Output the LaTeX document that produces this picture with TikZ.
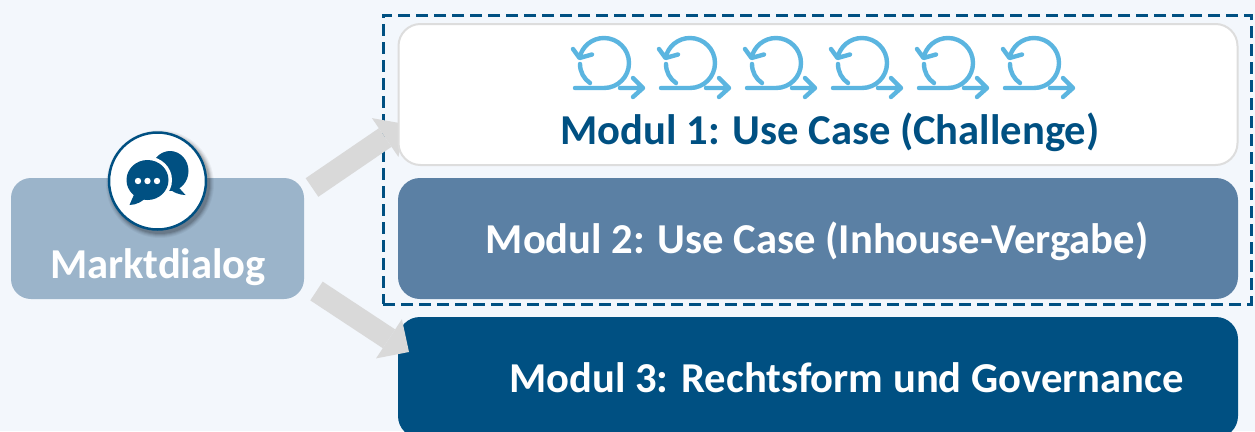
\documentclass[tikz,border=0pt]{standalone}
\usepackage{fontspec}
\setmainfont{Carlito}
\usetikzlibrary{arrows.meta}
\definecolor{bgc}{HTML}{F3F7FC}
\definecolor{navy}{HTML}{005082}
\definecolor{midb}{HTML}{5B80A4}
\definecolor{lightb}{HTML}{9BB4CA}
\definecolor{greyar}{HTML}{D9D9D9}
\definecolor{greyed}{HTML}{DDDDDD}
\definecolor{loopc}{HTML}{5BB5E0}
\tikzset{
  txt/.style={font=\fontsize{42.6}{44}\selectfont\bfseries,inner sep=0pt},
  box/.style={rounded corners=22pt,minimum width=840pt,inner sep=0pt,txt},
  loopicon/.pic={
    \draw[loopc,line width=4.4pt,line cap=round,line join=round]
      (0,0) -- (29,0) arc (-90:168:25)
      (-2,39) -- (4.5,30) -- (17,33.5)
      (5,24) .. controls (5,16) and (9,9) .. (15,5)
      (45,0) -- (67,0) (58,10) -- (68,0) -- (58,-9);
  },
  flow/.style={greyar,line width=22.5pt},
}
\begin{document}
\begin{tikzpicture}[x=1pt,y=1pt]
\useasboundingbox (0,-431) rectangle (1255,0);
\clip (0,-431) rectangle (1255,0);
\fill[bgc] (0,-431) rectangle (1255,0);
% dashed frame
\node[draw=navy,line width=3pt,dash pattern=on 12pt off 6pt,minimum width=868pt,minimum height=289pt,inner sep=0pt] (frame) at (817,-159.5) {};
% nodes' anchors for the arrows
\coordinate (a1s) at (312,-187.5);
\coordinate (a1e) at (405,-124);
\coordinate (a2s) at (316.5,-291);
\coordinate (a2e) at (409,-352);
\draw[flow,-{Triangle[length=24pt,width=47pt,line width=0pt]}] (a1s) -- (a1e);
% modules
\node[box,draw=greyed,line width=2pt,fill=white,minimum height=141pt,minimum width=839pt] (m1) at (818,-94.5) {};
\node[txt,text=navy] (m1t) at (830,-132.5) {Modul 1: Use Case (Challenge)};
\node[box,fill=midb,minimum height=121pt] (m2) at (818,-238.5) {};
\node[txt,text=white] (m2t) at (817,-241.5) {Modul 2: Use Case (Inhouse-Vergabe)};
\node[box,fill=navy,minimum height=121pt] (m3) at (818,-377.5) {};
\node[txt,text=white] (m3t) at (846.5,-378) {Modul 3: Rechtsform und Governance};
\draw[flow,-{Triangle[length=24pt,width=47pt,line width=0pt]}] (a2s) -- (a2e);
% loop icons
\foreach \i in {0,...,5} \pic at ({575+86*\i},-88) {loopicon};
% Marktdialog
\node[rounded corners=20pt,fill=lightb,minimum width=293pt,minimum height=121pt,inner sep=0pt] (md) at (157.5,-238.5) {};
\node[txt,text=white] (mdt) at (158,-267) {Marktdialog};
% icon circle with soft shadow
\foreach \r/\o in {54/0.04,53/0.05,52/0.07,51/0.09,50/0.11}
  \fill[black,opacity=\o] (160,-184) circle (\r);
\node[circle,draw=navy,line width=2.5pt,fill=white,minimum size=97pt,inner sep=0pt] (ic) at (157.5,-181) {};
% speech bubbles
\fill[navy] (170,-171) ellipse (18.5 and 20);
\fill[navy] (172,-180) -- (185.5,-195) .. controls (180,-195) and (173,-193) .. (166,-186) -- cycle;
\fill[white] (147.5,-180) ellipse (24.5 and 23.5);
\fill[navy] (147.5,-180) ellipse (21 and 20);
\fill[navy] (136,-190) -- (129.5,-205) .. controls (137,-205) and (143,-201) .. (148,-196) -- cycle;
\fill[white] (138,-181) circle (3.2) (147.5,-181) circle (3.2) (157,-181) circle (3.2);
\end{tikzpicture}
\end{document}
